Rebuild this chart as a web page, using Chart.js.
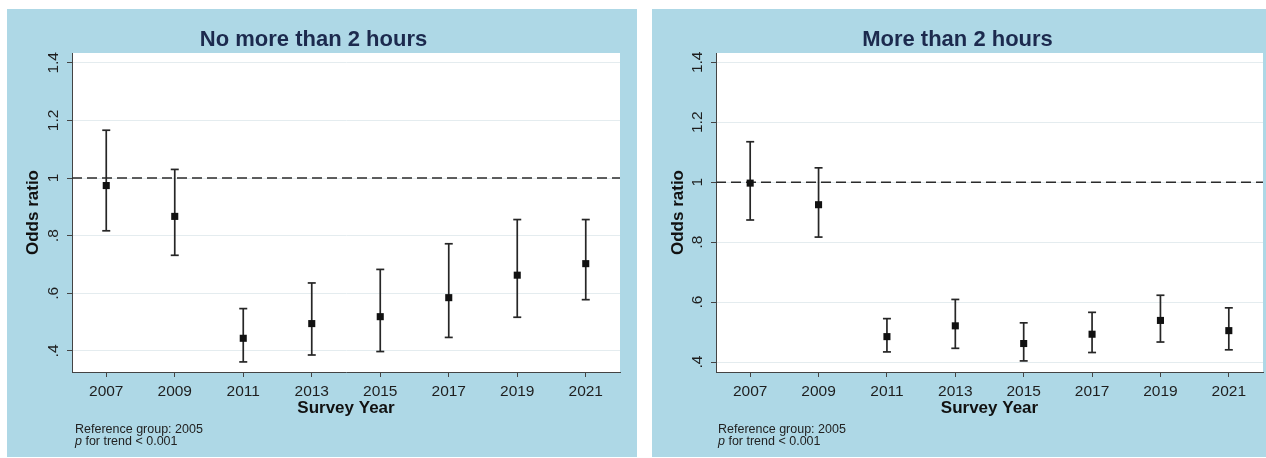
<!DOCTYPE html>
<html>
<head>
<meta charset="utf-8">
<script src="https://cdn.jsdelivr.net/npm/chart.js@4/dist/chart.umd.min.js"></script>
<style>
  html, body { margin: 0; padding: 0; background: #ffffff; }
  body { width: 1266px; height: 458px; position: relative; overflow: hidden; font-family: "Liberation Sans", Arial, sans-serif; }
  .panel { position: absolute; top: 9px; height: 448px; background: #aed8e6; }
  .panel canvas { position: absolute; left: 0; top: 0; }
  .note { position: absolute; top: 414px; font-size: 12.5px; line-height: 12px; color: #222; white-space: nowrap; }
</style>
</head>
<body>
<div class="panel" id="panelLeft" style="left:7px; width:630px;">
  <canvas id="shortChart"></canvas>
  <div class="note" style="left:68px;">Reference group: 2005<br><i>p</i> for trend &lt; 0.001</div>
</div>
<div class="panel" id="panelRight" style="left:652px; width:614px;">
  <canvas id="longChart"></canvas>
  <div class="note" style="left:66px;">Reference group: 2005<br><i>p</i> for trend &lt; 0.001</div>
</div>
<script>
// survey years and y ticks
const years = [2007, 2009, 2011, 2013, 2015, 2017, 2019, 2021];
const yTicks = [0.4, 0.6, 0.8, 1, 1.2, 1.4];

// No more than 2 hours: odds ratio with 95% CI
const shortOr   = [0.974, 0.867, 0.444, 0.495, 0.519, 0.585, 0.663, 0.703];
const shortLow  = [0.817, 0.732, 0.362, 0.386, 0.398, 0.447, 0.517, 0.578];
const shortHigh = [1.166, 1.030, 0.547, 0.636, 0.683, 0.772, 0.856, 0.856];

// More than 2 hours
const longOr   = [0.997, 0.925, 0.485, 0.521, 0.462, 0.493, 0.539, 0.505];
const longLow  = [0.874, 0.817, 0.434, 0.446, 0.404, 0.432, 0.467, 0.441];
const longHigh = [1.135, 1.048, 0.545, 0.609, 0.531, 0.566, 0.623, 0.581];

const refValue = 1;
const xMin = 2006, xMax = 2022;

const FONT = '"Liberation Sans", Arial, sans-serif';

// white plot region like Stata's plotregion
const plotBg = {
    id: 'plotBg',
    beforeDraw(chart) {
        const { ctx, chartArea: a } = chart;
        ctx.save();
        ctx.fillStyle = '#ffffff';
        ctx.fillRect(a.left, a.top, a.right - a.left, a.bottom - a.top);
        ctx.restore();
    }
};

function makeChart(canvasId, title, ors, lows, highs, yMin, yMax, yWidth, padRight) {
    const whiskers = [];
    years.forEach((yr, i) => {
        whiskers.push({ x: yr, y: lows[i] });
        whiskers.push({ x: yr, y: highs[i] });
        whiskers.push({ x: yr, y: null });
    });

    const ctx = document.getElementById(canvasId).getContext('2d');
    return new Chart(ctx, {
        type: 'line',
        data: {
            datasets: [{
                label: 'Odds ratio',
                data: years.map((yr, i) => ({ x: yr, y: ors[i] })),
                showLine: false,
                pointStyle: 'rect',
                pointRadius: 5,
                pointBackgroundColor: '#111111',
                pointBorderColor: '#111111',
                pointBorderWidth: 0
            }, {
                label: '95% CI',
                data: whiskers,
                spanGaps: false,
                borderColor: '#262626',
                borderWidth: 1.7,
                pointStyle: 'line',
                pointRadius: 4,
                pointBorderColor: '#262626',
                pointBorderWidth: 1.7
            }, {
                label: 'Reference',
                data: [{ x: xMin, y: refValue }, { x: xMax, y: refValue }],
                borderColor: '#2b2b2b',
                borderWidth: 1.5,
                borderDash: [10, 5],
                pointRadius: 0
            }]
        },
        options: {
            responsive: true,
            maintainAspectRatio: false,
            animation: false,
            layout: {
                autoPadding: false,
                padding: { left: 0, right: padRight, top: 0, bottom: 38 }
            },
            plugins: {
                legend: { display: false },
                tooltip: { enabled: false },
                title: {
                    display: true,
                    text: title,
                    color: '#1c2a4e',
                    font: { family: FONT, size: 22, weight: 'bold', lineHeight: 1.2 },
                    padding: { top: 17.6, bottom: 0 }
                }
            },
            scales: {
                x: {
                    type: 'linear',
                    min: xMin,
                    max: xMax,
                    afterBuildTicks: (scale) => { scale.ticks = years.map(v => ({ value: v })); },
                    afterFit: (scale) => { scale.height = 47; },
                    ticks: {
                        color: '#1e1e1e',
                        font: { family: FONT, size: 15.5 },
                        padding: 5.5,
                        autoSkip: false,
                        maxRotation: 0,
                        callback: (v) => String(v)
                    },
                    grid: {
                        drawOnChartArea: false,
                        drawTicks: true,
                        tickLength: 5,
                        tickColor: '#444444'
                    },
                    border: { display: true, color: '#444444', width: 1 },
                    title: {
                        display: true,
                        text: 'Survey Year',
                        color: '#111111',
                        font: { family: FONT, size: 17, weight: 'bold', lineHeight: 1.2 },
                        padding: { top: 0, bottom: 0 }
                    }
                },
                y: {
                    type: 'linear',
                    min: yMin,
                    max: yMax,
                    afterBuildTicks: (scale) => { scale.ticks = yTicks.map(v => ({ value: v })); },
                    afterFit: (scale) => { scale.width = yWidth; },
                    ticks: {
                        color: '#1e1e1e',
                        font: { family: FONT, size: 15.5 },
                        padding: 3,
                        minRotation: 90,
                        maxRotation: 90,
                        crossAlign: 'center',
                        autoSkip: false,
                        callback: (v) => (v < 1 ? String(v).replace(/^0/, '') : String(v))
                    },
                    grid: {
                        color: '#e4ecef',
                        lineWidth: 1,
                        drawTicks: true,
                        tickLength: 5,
                        tickColor: '#444444'
                    },
                    border: { display: true, color: '#444444', width: 1 },
                    title: {
                        display: true,
                        text: 'Odds ratio',
                        color: '#111111',
                        font: { family: FONT, size: 17, weight: 'bold', lineHeight: 1.2 },
                        padding: { top: 16.5, bottom: 0 }
                    }
                }
            }
        },
        plugins: [plotBg]
    });
}

makeChart('shortChart', 'No more than 2 hours', shortOr, shortLow, shortHigh, 0.327, 1.434, 65, 17);
makeChart('longChart', 'More than 2 hours', longOr, longLow, longHigh, 0.367, 1.431, 64, 3);
</script>
</body>
</html>
